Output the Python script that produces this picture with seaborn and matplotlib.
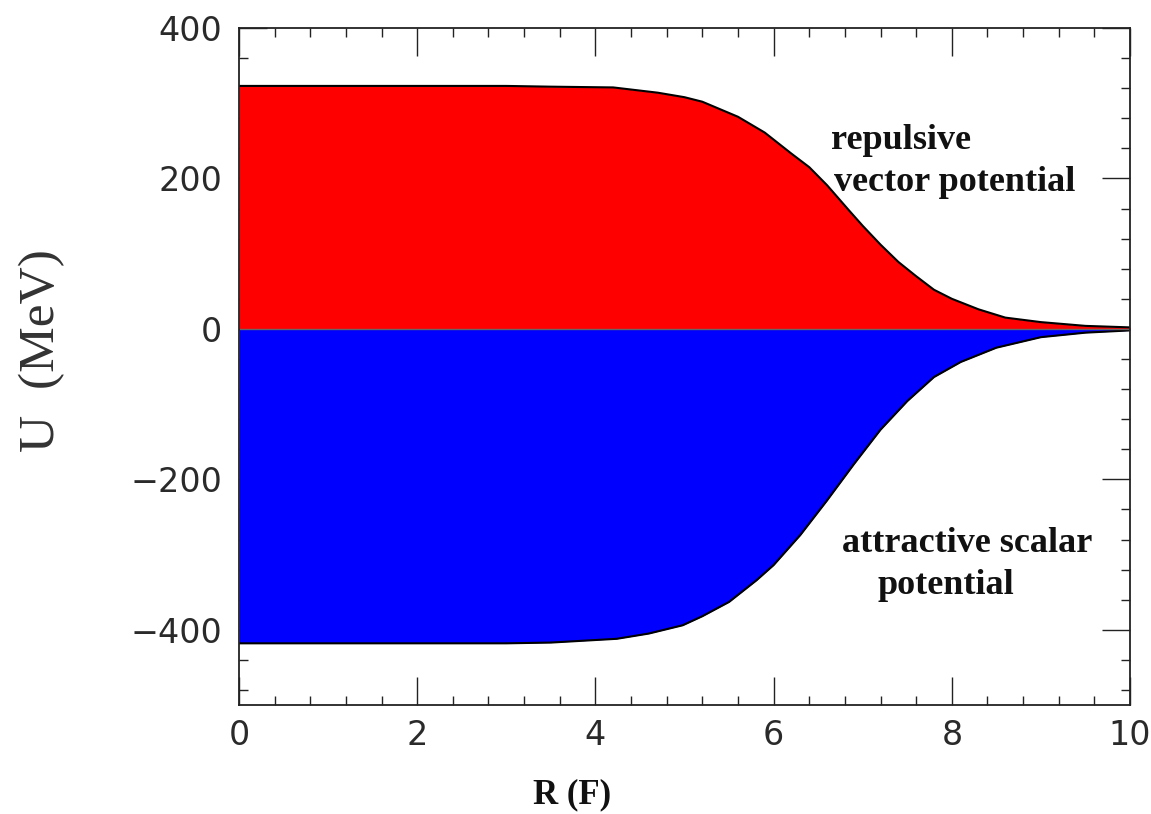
import matplotlib
matplotlib.use("Agg")
import matplotlib.pyplot as plt
import seaborn as sns
import pandas as pd
from matplotlib.ticker import MultipleLocator

# ---- data ----
r_vector = [0.0, 1.0, 2.0, 3.0, 3.5, 4.2, 4.7, 5.0, 5.2, 5.6, 5.9, 6.2, 6.4,
            6.6, 6.85, 7.0, 7.2, 7.4, 7.6, 7.8, 8.0, 8.3, 8.6, 9.0, 9.5, 10.0]
u_vector = [323, 323, 323, 323, 322, 321, 314, 308, 302, 282, 261, 233, 215,
            191, 157, 137, 112, 89, 70, 52, 40, 26, 15, 9, 4, 2]

r_scalar = [0.0, 1.0, 2.0, 3.0, 3.5, 4.24, 4.6, 4.98, 5.2, 5.5, 5.81, 6.0, 6.3,
            6.6, 6.9, 7.2, 7.5, 7.8, 8.1, 8.5, 9.0, 9.5, 10.0]
u_scalar = [-418, -418, -418, -418, -417, -412, -405, -394, -382, -363, -334,
            -314, -274, -228, -180, -134, -96, -64, -44, -25, -11, -5, -2]

x_ticks = [0, 2, 4, 6, 8, 10]
y_ticks = [-400, -200, 0, 200, 400]

df_vec = pd.DataFrame({"R": r_vector, "U": u_vector})
df_sca = pd.DataFrame({"R": r_scalar, "U": u_scalar})

sns.set_theme(style="ticks")
plt.rcParams["font.family"] = ["DejaVu Sans"]

fig = plt.figure(figsize=(11.51, 8.14), dpi=100)
ax = fig.add_axes([0.2076, 0.1339, 0.7742, 0.8317])

ax.fill_between(df_vec["R"], 0, df_vec["U"], color="#FF0000", linewidth=0, zorder=1)
ax.fill_between(df_sca["R"], 0, df_sca["U"], color="#0000FF", linewidth=0, zorder=1)
sns.lineplot(data=df_vec, x="R", y="U", color="black", linewidth=1.5, ax=ax, zorder=2)
sns.lineplot(data=df_sca, x="R", y="U", color="black", linewidth=1.5, ax=ax, zorder=2)
ax.axhline(0, color="#666666", linewidth=1.0, zorder=2)

ax.set_xlim(0, 10)
ax.set_ylim(-500, 400)
ax.set_xticks(x_ticks)
ax.set_yticks(y_ticks)
ax.xaxis.set_minor_locator(MultipleLocator(0.4))
ax.yaxis.set_minor_locator(MultipleLocator(40))

ax.tick_params(which="both", direction="in", top=True, right=True,
               color="#222222", width=1.0)
ax.tick_params(which="major", length=20, labelsize=24, labelcolor="#2a2a2a")
ax.tick_params(which="minor", length=6.5)
ax.tick_params(axis="x", which="major", pad=10)
ax.tick_params(axis="y", which="major", pad=12)

for s in ax.spines.values():
    s.set_color("#222222")
    s.set_linewidth(1.3)

ax.set_xlabel("R (F)", family="Liberation Serif", fontweight="bold",
              fontsize=25, color="#111111")
ax.set_ylabel("U  (MeV)", family="Liberation Serif", fontsize=37, color="#333333")
ax.xaxis.set_label_coords(0.374, -0.108)
ax.yaxis.set_label_coords(-0.195, 0.524)

txt = dict(family="Liberation Serif", fontweight="bold", fontsize=26,
           color="#111111", va="center", ha="left")
ax.text(6.64, 251, "repulsive", **txt)
ax.text(6.68, 194, "vector potential", **txt)
ax.text(6.77, -285, "attractive scalar", **txt)
ax.text(7.17, -341, "potential", **txt)

fig.savefig("out.png", dpi=100)
